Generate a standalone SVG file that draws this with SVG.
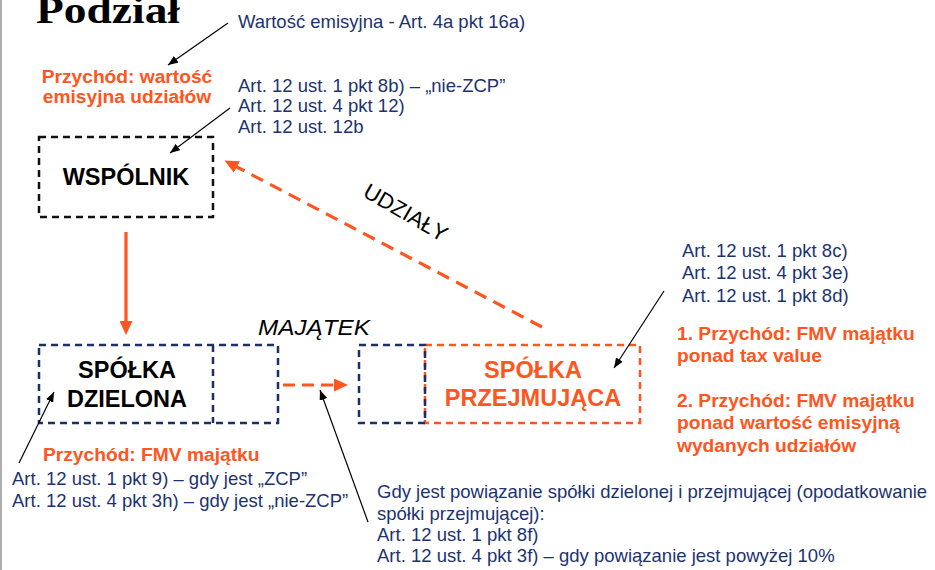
<svg xmlns="http://www.w3.org/2000/svg" width="935" height="570" viewBox="0 0 935 570">
  <style>
    .ref { font-family: "Liberation Sans", Arial, sans-serif; font-size: 18.5px; fill: #1C3370; }
    .inc { font-family: "Liberation Sans", Arial, sans-serif; font-size: 19.2px; font-weight: bold; fill: #FF5520; }
    .node { font-family: "Liberation Sans", Arial, sans-serif; font-size: 23.5px; font-weight: bold; text-anchor: middle; }
    .box { fill: none; stroke-width: 2.5; stroke-dasharray: 7 5; }
    .lead { fill: none; stroke: #000; stroke-width: 1.2; marker-end: url(#tipBlack); }
    .flow { fill: none; stroke: #FF5520; stroke-width: 3.2; marker-end: url(#tipOrange); }
  </style>
  <defs>
    <marker id="tipBlack" markerUnits="userSpaceOnUse" viewBox="0 0 10 8" refX="10" refY="4" markerWidth="10" markerHeight="8" orient="auto">
      <path d="M0,0 L10,4 L0,8 z" fill="#000"/>
    </marker>
    <marker id="tipOrange" markerUnits="userSpaceOnUse" viewBox="0 0 14 13" refX="1" refY="6.5" markerWidth="14" markerHeight="13" orient="auto">
      <path d="M0,0 L14,6.5 L0,13 z" fill="#FF5520"/>
    </marker>
  </defs>

  <rect x="0" y="0" width="935" height="570" fill="#fff"/>
  <line x1="1" y1="0" x2="1" y2="570" stroke="#9a9a9a" stroke-width="1.6"/>

  <text x="36" y="23" font-family="'Liberation Serif', 'Times New Roman', serif" font-weight="bold" font-size="38" textLength="144" lengthAdjust="spacingAndGlyphs" fill="#000">Podział</text>

  <!-- shareholder -->
  <g id="wspolnik">
    <rect class="box" x="39" y="137" width="174" height="80" stroke="#111"/>
    <text class="node" x="126" y="185" fill="#000">WSPÓLNIK</text>
  </g>

  <!-- company being divided -->
  <g id="spolka-dzielona">
    <rect class="box" x="39" y="345" width="239" height="78" stroke="#1C2F66"/>
    <line class="box" x1="213" y1="345" x2="213" y2="423" stroke="#1C2F66"/>
    <text class="node" x="127" y="378" fill="#000">SPÓŁKA</text>
    <text class="node" x="127" y="407" fill="#000">DZIELONA</text>
  </g>

  <!-- acquiring company -->
  <g id="spolka-przejmujaca">
    <rect class="box" x="425" y="345" width="215" height="78" stroke="#FF5520"/>
    <rect class="box" x="359" y="345" width="66" height="78" stroke="#1C2F66"/>
    <text class="node" x="533" y="378" fill="#FF5520">SPÓŁKA</text>
    <text class="node" x="533" y="406" fill="#FF5520">PRZEJMUJĄCA</text>
  </g>

  <!-- connectors -->
  <g id="connectors">
    <line class="flow" x1="126" y1="232" x2="126" y2="322"/>
    <line class="flow" x1="283" y1="385" x2="335" y2="385" stroke-dasharray="12 7"/>
    <line class="flow" x1="542" y1="327" x2="236" y2="166.5" stroke-dasharray="13 8"/>

    <line class="lead" x1="228" y1="23" x2="168" y2="65"/>
    <line class="lead" x1="230" y1="108" x2="170" y2="153"/>
    <line class="lead" x1="664" y1="291" x2="614" y2="368"/>
    <line class="lead" x1="19" y1="463" x2="54" y2="392"/>
    <line class="lead" x1="368" y1="522" x2="320" y2="390"/>
  </g>

  <!-- flow labels -->
  <text x="258" y="335" font-family="'Liberation Sans', Arial, sans-serif" font-style="italic" font-size="22" textLength="112" lengthAdjust="spacingAndGlyphs" fill="#000">MAJĄTEK</text>
  <text x="402" y="219" transform="rotate(30 402 219)" text-anchor="middle" font-family="'Liberation Sans', Arial, sans-serif" font-size="22" fill="#000">UDZIAŁY</text>

  <!-- references and income descriptions -->
  <text class="ref" x="238" y="28">Wartość emisyjna - Art. 4a pkt 16a)</text>

  <text class="inc" x="127" y="83" text-anchor="middle">Przychód: wartość</text>
  <text class="inc" x="127" y="103" text-anchor="middle">emisyjna udziałów</text>

  <text class="ref" x="238" y="92">Art. 12 ust. 1 pkt 8b) – „nie-ZCP”</text>
  <text class="ref" x="238" y="112">Art. 12 ust. 4 pkt 12)</text>
  <text class="ref" x="238" y="133">Art. 12 ust. 12b</text>

  <text class="ref" x="682" y="257">Art. 12 ust. 1 pkt 8c)</text>
  <text class="ref" x="682" y="279">Art. 12 ust. 4 pkt 3e)</text>
  <text class="ref" x="682" y="302">Art. 12 ust. 1 pkt 8d)</text>

  <text class="inc" x="677" y="340">1. Przychód: FMV majątku</text>
  <text class="inc" x="677" y="362">ponad tax value</text>
  <text class="inc" x="677" y="407">2. Przychód: FMV majątku</text>
  <text class="inc" x="677" y="429">ponad wartość emisyjną</text>
  <text class="inc" x="677" y="452">wydanych udziałów</text>

  <text class="inc" x="43" y="461">Przychód: FMV majątku</text>
  <text class="ref" x="12" y="485">Art. 12 ust. 1 pkt 9) – gdy jest „ZCP”</text>
  <text class="ref" x="12" y="507">Art. 12 ust. 4 pkt 3h) – gdy jest „nie-ZCP”</text>

  <text class="ref" x="377" y="498">Gdy jest powiązanie spółki dzielonej i przejmującej (opodatkowanie</text>
  <text class="ref" x="377" y="520">spółki przejmującej):</text>
  <text class="ref" x="377" y="541">Art. 12 ust. 1 pkt 8f)</text>
  <text class="ref" x="377" y="562">Art. 12 ust. 4 pkt 3f) – gdy powiązanie jest powyżej 10%</text>
</svg>
